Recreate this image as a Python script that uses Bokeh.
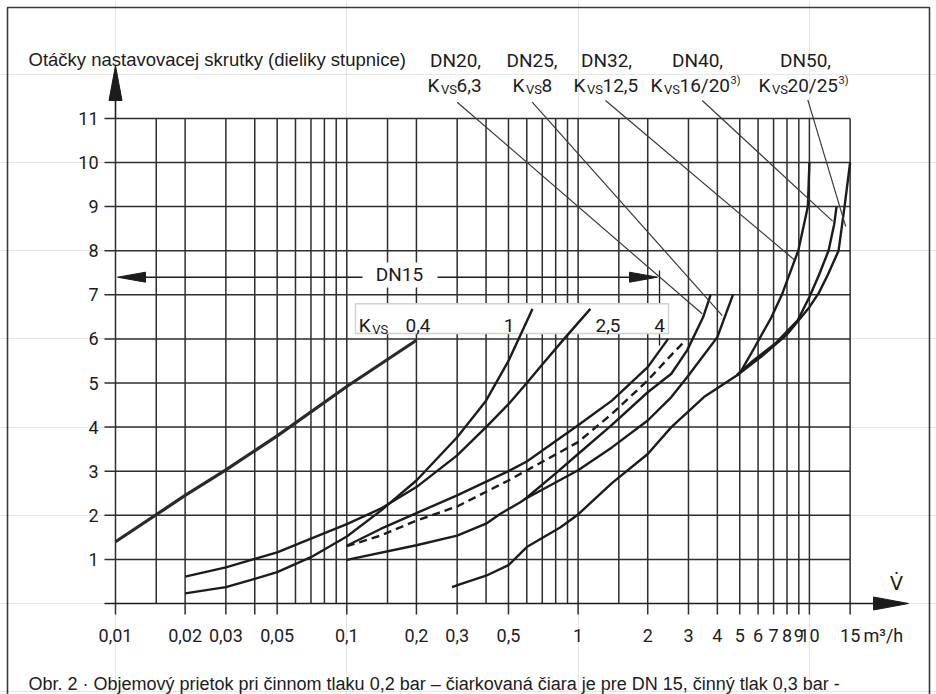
from bokeh.plotting import figure
from bokeh.core.properties import value
from bokeh.models import Range1d
from bokeh.embed import file_html
from bokeh.resources import INLINE

# ---------------- data ----------------
x_tick_values = [0.01, 0.02, 0.03, 0.05, 0.1, 0.2, 0.3, 0.5, 1, 2, 3, 4, 5, 6, 7, 8, 9, 10, 15]
x_tick_labels = ["0,01", "0,02", "0,03", "0,05", "0,1", "0,2", "0,3", "0,5", "1", "2", "3",
                 "4", "5", "6", "7", "8", "9", "10", "15"]
x_tick_marks = [0.01, 0.02, 0.03, 0.04, 0.05, 0.1, 0.2, 0.3, 0.5, 1, 2, 3, 4, 5, 6, 7, 8, 9, 10, 15]
x_grid = [0.01, 0.015, 0.02, 0.03, 0.04, 0.05, 0.06, 0.07, 0.08, 0.09,
          0.1, 0.15, 0.2, 0.3, 0.4, 0.5, 0.6, 0.7, 0.8, 0.9,
          1, 1.5, 2, 3, 4, 5, 6, 7, 8, 9, 10, 15]
y_ticks = [1, 2, 3, 4, 5, 6, 7, 8, 9, 10, 11]
y_tick_labels = ["1", "2", "3", "4", "5", "6", "7", "8", "9", "10", "11"]
x_unit = "m³/h"

# DN15, Kvs 0,4
kvs04_x = [0.01, 0.02, 0.03, 0.05, 0.1, 0.2]
kvs04_y = [1.4, 2.45, 3.03, 3.8, 4.92, 5.97]
# DN15, Kvs 1
kvs1_x = [0.02, 0.03, 0.04, 0.05, 0.07, 0.1, 0.14, 0.2, 0.3, 0.4, 0.5, 0.635]
kvs1_y = [0.23, 0.37, 0.56, 0.71, 1.05, 1.52, 2.1, 2.79, 3.77, 4.6, 5.5, 6.68]
# DN15, Kvs 2,5
kvs25_x = [0.02, 0.03, 0.04, 0.05, 0.07, 0.1, 0.14, 0.2, 0.3, 0.4, 0.5, 0.6, 0.7, 0.87, 1.13]
kvs25_y = [0.61, 0.82, 1.01, 1.16, 1.47, 1.8, 2.15, 2.64, 3.36, 4.0, 4.52, 5.0, 5.42, 6.0, 6.68]
# DN15, Kvs 4
kvs4_x = [0.1, 0.14, 0.2, 0.3, 0.5, 0.6, 1.0, 1.4, 2.0, 2.45]
kvs4_y = [1.31, 1.69, 2.05, 2.45, 3.0, 3.22, 4.04, 4.6, 5.36, 6.0]
# DN15, 0,3 bar (dashed)
dn15_03_x = [0.1, 0.14, 0.2, 0.3, 0.5, 1.0, 1.4, 2.0, 2.6, 2.93]
dn15_03_y = [1.3, 1.54, 1.88, 2.2, 2.79, 3.66, 4.3, 5.06, 5.7, 5.98]
# DN20, Kvs 6,3
dn20_x = [0.59, 0.8, 1.0, 1.4, 2.0, 2.53, 2.96, 3.47, 3.74]
dn20_y = [2.37, 2.95, 3.39, 4.05, 4.79, 5.21, 5.74, 6.49, 7.0]
# DN25, Kvs 8
dn25_x = [0.1, 0.2, 0.3, 0.4, 0.46, 0.56, 0.59, 1.0, 1.4, 2.0, 2.53, 2.96, 4.0, 4.67]
dn25_y = [0.99, 1.32, 1.54, 1.81, 2.03, 2.29, 2.37, 3.02, 3.54, 4.15, 4.68, 5.13, 6.04, 7.0]
# DN32 / DN40 / DN50 common lower branch
dn_big_x = [0.285, 0.31, 0.4, 0.5, 0.6, 0.84, 1.0, 1.4, 2.0, 2.53, 3.5, 4.85]
dn_big_y = [0.37, 0.44, 0.63, 0.87, 1.28, 1.73, 2.02, 2.73, 3.39, 4.0, 4.68, 5.17]
# DN32, Kvs 12,5
dn32_x = [4.85, 5.08, 5.8, 6.85, 7.6, 8.95, 9.85, 10.0]
dn32_y = [5.17, 5.28, 5.81, 6.49, 7.0, 8.0, 9.0, 10.0]
# DN40, Kvs 16/20
dn40_x = [4.85, 5.6, 7.1, 8.9, 10.0, 11.0, 12.1, 12.8, 13.1]
dn40_y = [5.17, 5.47, 5.89, 6.42, 6.95, 7.45, 8.0, 8.6, 9.0]
# DN50, Kvs 20/25
dn50_x = [4.85, 6.2, 8.0, 10.0, 11.0, 12.0, 13.37, 14.19, 15.0]
dn50_y = [5.17, 5.6, 6.1, 6.72, 7.05, 7.45, 8.0, 9.0, 10.0]

dn_names = ["DN20,", "DN25,", "DN32,", "DN40,", "DN50,"]
dn_kvs = ["6,3", "8", "12,5", "16/20", "20/25"]
dn_notes = ["", "", "", "3)", "3)"]
# where the leader lines touch the curves (data coordinates)
leader_end_x = [3.44, 4.2, 8.62, 12.6, 14.35]
leader_end_y = [6.57, 6.53, 7.79, 8.67, 8.55]

kvs_box_labels = ["0,4", "1", "2,5", "4"]
dn15_range_label = "DN15"
y_title = "Otáčky nastavovacej skrutky (dieliky stupnice)"
caption = ("Obr. 2 · Objemový prietok pri činnom tlaku 0,2 bar – čiarkovaná čiara je pre "
           "DN 15, činný tlak 0,3 bar -")

# ---------------- layout ----------------
W, H = 936, 694
X001_PX, DECADE_PX = 115.0, 231.3   # page x of 0.01, pixels per decade
Y0_PX, UNIT_PX = 603.0, 44.1        # page y of 0, pixels per unit


def xd(px):
    return 10 ** (-2 + (px - X001_PX) / DECADE_PX)


def yd(py):
    return (Y0_PX - py) / UNIT_PX


INK = "#1c1c1c"
GRID = "#2e2e2e"
TICK_FONT = value("Roboto")
SANS = value("Liberation Sans")

p = figure(width=W, height=H, x_axis_type="log",
           x_range=Range1d(xd(0), xd(W)), y_range=Range1d(yd(H), yd(0)),
           x_axis_location=None, y_axis_location=None, min_border=0,
           toolbar_location=None, output_backend="svg",
           outline_line_color=None, background_fill_color="white",
           border_fill_color="white")

# outer frame (left, top, right)
p.line([xd(7), xd(7), xd(929), xd(929)],
       [yd(H), yd(7), yd(7), yd(H)],
       line_color="#3a3a3a", line_width=1.6)

# vertical grid lines
p.multi_line([[v, v] for v in x_grid], [[0, 11] for _ in x_grid],
             line_color=GRID, line_width=1.5)
# tick marks below the x axis
p.multi_line([[v, v] for v in x_tick_marks], [[yd(614), 0] for _ in x_tick_marks],
             line_color=GRID, line_width=1.5)
# horizontal grid lines
p.multi_line([[xd(104), 15] for _ in y_ticks], [[k, k] for k in y_ticks],
             line_color=GRID, line_width=1.5)
# x axis with arrow
p.line([xd(104), xd(875)], [0, 0], line_color=INK, line_width=1.6)
p.patch([xd(873), xd(908), xd(873)], [yd(596.5), 0, yd(609.5)], color=INK)
# y axis with arrow
p.line([0.01, 0.01], [11, yd(98)], line_color=INK, line_width=1.6)
p.patch([xd(108.5), 0.01, xd(121.5)], [yd(100), yd(65), yd(100)], color=INK)

# DN15 range arrow
y_dn15 = yd(276.7)
p.line([xd(140), xd(635)], [y_dn15, y_dn15], line_color=INK, line_width=1.5)
p.patch([xd(145), xd(117), xd(145)], [yd(271.7), y_dn15, yd(281.7)], color=INK)
p.patch([xd(629), xd(657), xd(629)], [yd(271.7), y_dn15, yd(281.7)], color=INK)
p.line([xd(659), xd(659)], [yd(270), yd(345)], line_color=INK, line_width=1.3)
p.quad(left=[xd(362)], right=[xd(437)], bottom=[yd(287)], top=[yd(262)],
       fill_color="white", line_color=None)

# Kvs box
p.quad(left=[xd(355)], right=[xd(668)], bottom=[yd(333)], top=[yd(303.3)],
       fill_color="white", line_color="#d2d2d2", line_width=1.5)

# curves
p.line(kvs04_x, kvs04_y, line_color="#2a2a2a", line_width=3.2)
for cx, cy in [(kvs1_x, kvs1_y), (kvs25_x, kvs25_y), (kvs4_x, kvs4_y),
               (dn20_x, dn20_y), (dn25_x, dn25_y), (dn_big_x, dn_big_y),
               (dn32_x, dn32_y), (dn40_x, dn40_y), (dn50_x, dn50_y)]:
    p.line(cx, cy, line_color=INK, line_width=2.4)
p.line(dn15_03_x, dn15_03_y, line_color=INK, line_width=2.4, line_dash="8 5")

# leader lines from the DN labels
lead_start_px = [(456.7, 101.7), (531.7, 101.7), (605, 100), (701.7, 100), (807.3, 99.3)]
p.segment(x0=[xd(a) for a, b in lead_start_px], y0=[yd(b) for a, b in lead_start_px],
          x1=leader_end_x, y1=leader_end_y, line_color="#3a3a3a", line_width=1.2)


def txt(x, y, s, size, font=TICK_FONT, align="left", baseline="alphabetic",
        xo=0, yo=0, color=INK):
    p.text(x=[x], y=[y], text=[s], text_font=font, text_font_size=size,
           text_align=align, text_baseline=baseline, x_offset=xo, y_offset=yo,
           text_color=color)


# tick labels
p.text(x=x_tick_values, y=[yd(635)] * len(x_tick_values), text=x_tick_labels,
       text_font=TICK_FONT, text_font_size="18px", text_align="center",
       text_baseline="middle", text_color=INK)
p.text(x=[xd(98)] * len(y_ticks), y=y_ticks, text=y_tick_labels,
       text_font=TICK_FONT, text_font_size="18px", text_align="right",
       text_baseline="middle", text_color=INK)
txt(xd(863), yd(635), x_unit, "18px", baseline="middle")
txt(xd(896), yd(582), "V\u0307", "19px", font=value("DejaVu Sans"), align="center",
    baseline="middle")

# titles
txt(xd(28), yd(59), y_title, "18.5px", font=SANS)
txt(xd(28), yd(683), caption, "18px", font=SANS)

# DN labels
lab_center_px = [455, 531.5, 606, 697, 805]
lab_k_px = [427, 512, 573, 650, 758]
note_off = [0, 0, 0, 80, 80]
for name, kv, note, cpx, kpx, no in zip(dn_names, dn_kvs, dn_notes, lab_center_px,
                                        lab_k_px, note_off):
    txt(xd(cpx), yd(60), name, "19px", align="center")
    txt(xd(kpx), yd(85), "K", "19px")
    txt(xd(kpx), yd(85), "VS", "13px", xo=13.5, yo=3.5)
    txt(xd(kpx), yd(85), kv, "19px", xo=29)
    if note:
        txt(xd(kpx), yd(85), note, "11px", xo=no, yo=-5)

# Kvs box labels
txt(xd(358.3), yd(325), "K", "19px")
txt(xd(358.3), yd(325), "VS", "13px", xo=13.5, yo=3.5)
box_label_px = [417.5, 508.5, 607.5, 659]
for s, bx in zip(kvs_box_labels, box_label_px):
    txt(xd(bx), yd(325), s, "19px", align="center")

# DN15 range label
txt(xd(399), yd(273.5), dn15_range_label, "19px", align="center", baseline="middle")

open("out.html", "w").write(file_html(p, INLINE))
